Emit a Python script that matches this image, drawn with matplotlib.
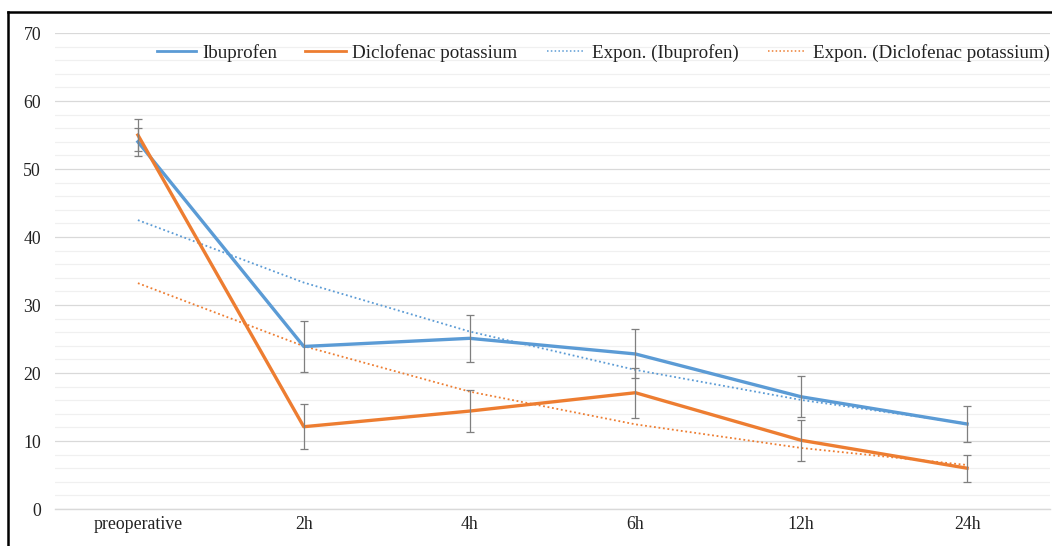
import numpy as np
import matplotlib
matplotlib.use("Agg")
import matplotlib.pyplot as plt
from matplotlib.lines import Line2D

categories = ["preoperative", "2h", "4h", "6h", "12h", "24h"]
ibuprofen = [54.0, 23.9, 25.1, 22.8, 16.5, 12.5]
ibuprofen_err = [2.1, 3.7, 3.5, 3.6, 3.0, 2.7]
diclofenac = [55.0, 12.1, 14.4, 17.1, 10.1, 6.0]
diclofenac_err = [2.3, 3.3, 3.1, 3.7, 3.0, 2.0]
y_ticks = [0, 10, 20, 30, 40, 50, 60, 70]
legend_labels = ["Ibuprofen", "Diclofenac potassium", "Expon. (Ibuprofen)",
                 "Expon. (Diclofenac potassium)"]

blue = "#5B9BD5"
orange = "#ED7D31"
err_col = "#7F7F7F"
dotted = (0, (1, 1.5))

plt.rcParams['font.family'] = ['Liberation Serif', 'DejaVu Serif']

W, H = 1052, 546
fig = plt.figure(figsize=(W / 100, H / 100), dpi=100)
ax = fig.add_axes([55 / W, 1 - 509 / H, (1050 - 55) / W, (509 - 33) / H])

x = np.arange(len(categories))

def expon_fit(vals):
    xs = np.arange(1, len(vals) + 1)
    b, a = np.polyfit(xs, np.log(vals), 1)
    return np.exp(a) * np.exp(b * xs)

ax.plot(x, ibuprofen, color=blue, lw=2.4, zorder=4, solid_joinstyle='round')
ax.plot(x, diclofenac, color=orange, lw=2.4, zorder=5, solid_joinstyle='round')
ax.plot(x, expon_fit(ibuprofen), color=blue, lw=1.3, ls=dotted, zorder=3)
ax.plot(x, expon_fit(diclofenac), color=orange, lw=1.3, ls=dotted, zorder=3)

ax.errorbar(x, ibuprofen, yerr=ibuprofen_err, fmt='none', ecolor=err_col,
            elinewidth=0.9, capsize=3, capthick=0.9, zorder=6)
ax.errorbar(x, diclofenac, yerr=diclofenac_err, fmt='none', ecolor=err_col,
            elinewidth=0.9, capsize=3, capthick=0.9, zorder=6)

ax.set_xlim(-0.5, len(categories) - 0.5)
ax.set_ylim(0, 70)
ax.set_yticks(y_ticks)
ax.set_yticks(np.arange(0, 71, 2), minor=True)
ax.grid(axis='y', which='major', color='#D9D9D9', lw=0.9, zorder=0)
ax.grid(axis='y', which='minor', color='#F0F0F0', lw=0.9, zorder=0)
ax.set_axisbelow(True)
for s in ['left', 'right', 'top']:
    ax.spines[s].set_visible(False)
ax.spines['bottom'].set_color('#D9D9D9')
ax.spines['bottom'].set_linewidth(1.0)
ax.set_xticks(x)
ax.set_xticklabels(categories)
ax.tick_params(axis='both', which='both', length=0, labelsize=12.8, colors='#000000')
ax.tick_params(axis='y', pad=10)
ax.tick_params(axis='x', pad=5)
for lab in ax.get_xticklabels() + ax.get_yticklabels():
    lab.set_color('#222222')

# legend, laid out in figure pixels like the reference
leg_styles = [
    dict(color=blue, lw=2.0),
    dict(color=orange, lw=2.0),
    dict(color=blue, lw=1.1, ls=dotted),
    dict(color=orange, lw=1.1, ls=dotted),
]
handle_x = [(157, 196), (305, 346), (547, 585), (768, 806)]
text_x = [202, 352, 592, 813]
leg_y = 1 - 51 / H
for lab, st, (h0, h1), tx in zip(legend_labels, leg_styles, handle_x, text_x):
    fig.add_artist(Line2D([h0 / W, h1 / W], [leg_y, leg_y],
                          transform=fig.transFigure, **st))
    fig.text(tx / W, leg_y, lab, fontsize=13.7, color='#222222',
             ha='left', va='center_baseline')

# outer border (cropped on the right and bottom)
fig.add_artist(Line2D([8 / W, 8 / W], [0, 1 - 12 / H], color='black', lw=1.8,
                      transform=fig.transFigure))
fig.add_artist(Line2D([8 / W, 1], [1 - 12 / H, 1 - 12 / H], color='black', lw=1.8,
                      transform=fig.transFigure))

fig.savefig("out.png", dpi=100)
